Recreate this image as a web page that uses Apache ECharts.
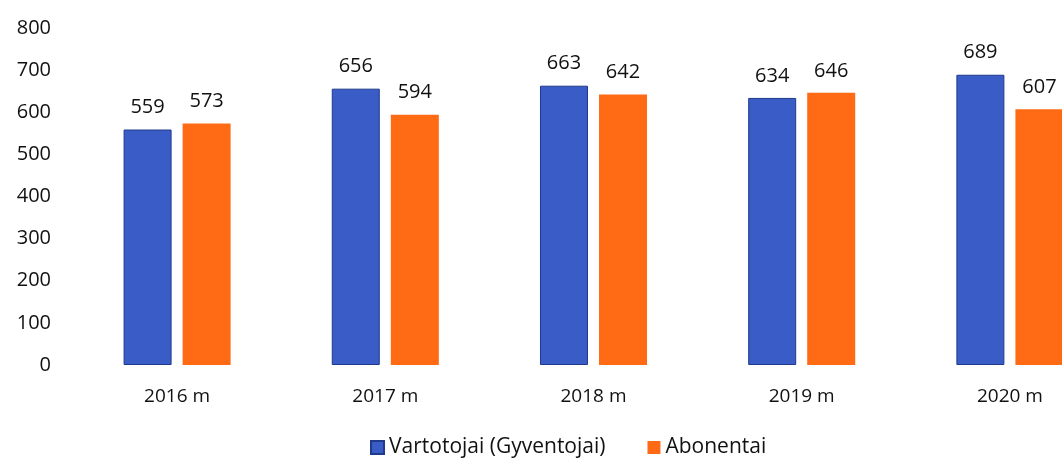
<!DOCTYPE html>
<html><head><meta charset="utf-8">
<script src="https://cdn.jsdelivr.net/npm/echarts@6/dist/echarts.min.js"></script>
<style>html,body{margin:0;padding:0;background:#fff;overflow:hidden}#c{width:1115px;height:463px}</style>
</head><body><div id="c"></div>
<script>
const categories = ['2016 m', '2017 m', '2018 m', '2019 m', '2020 m'];
const users = [559, 656, 663, 634, 689];
const subscribers = [573, 594, 642, 646, 607];
const seriesNames = ['Vartotojai (Gyventojai)', 'Abonentai'];
const yTicks = [0, 100, 200, 300, 400, 500, 600, 700, 800];

const font = 'Open Sans';
const chart = echarts.init(document.getElementById('c'));
chart.setOption({
  animation: false,
  textStyle: { fontFamily: font },
  grid: { left: 73, right: 1, top: 28, height: 337 },
  legend: {
    bottom: 0, left: 365, itemWidth: 13, itemHeight: 13, itemGap: 42,
    icon: 'rect',
    textStyle: { fontSize: 21, color: '#111', fontFamily: font },
    data: seriesNames
  },
  xAxis: {
    type: 'category', data: categories,
    axisLine: { show: false }, axisTick: { show: false },
    axisLabel: { fontSize: 19, color: '#111', margin: 22 }
  },
  yAxis: {
    type: 'value', min: yTicks[0], max: yTicks[yTicks.length - 1], interval: 100,
    splitLine: { show: false }, axisLine: { show: false }, axisTick: { show: false },
    axisLabel: { fontSize: 20, color: '#111', margin: 22 }
  },
  series: [
    { name: seriesNames[0], type: 'bar', data: users, barWidth: 48, barGap: '23%',
      itemStyle: { color: '#3a5cc6', borderColor: '#1f3a8a', borderWidth: 1 },
      label: { show: true, position: 'top', distance: 12, fontSize: 20, color: '#111' } },
    { name: seriesNames[1], type: 'bar', data: subscribers, barWidth: 48,
      itemStyle: { color: '#ff6a14' },
      label: { show: true, position: 'top', distance: 12, fontSize: 20, color: '#111' } }
  ]
});
</script></body></html>
